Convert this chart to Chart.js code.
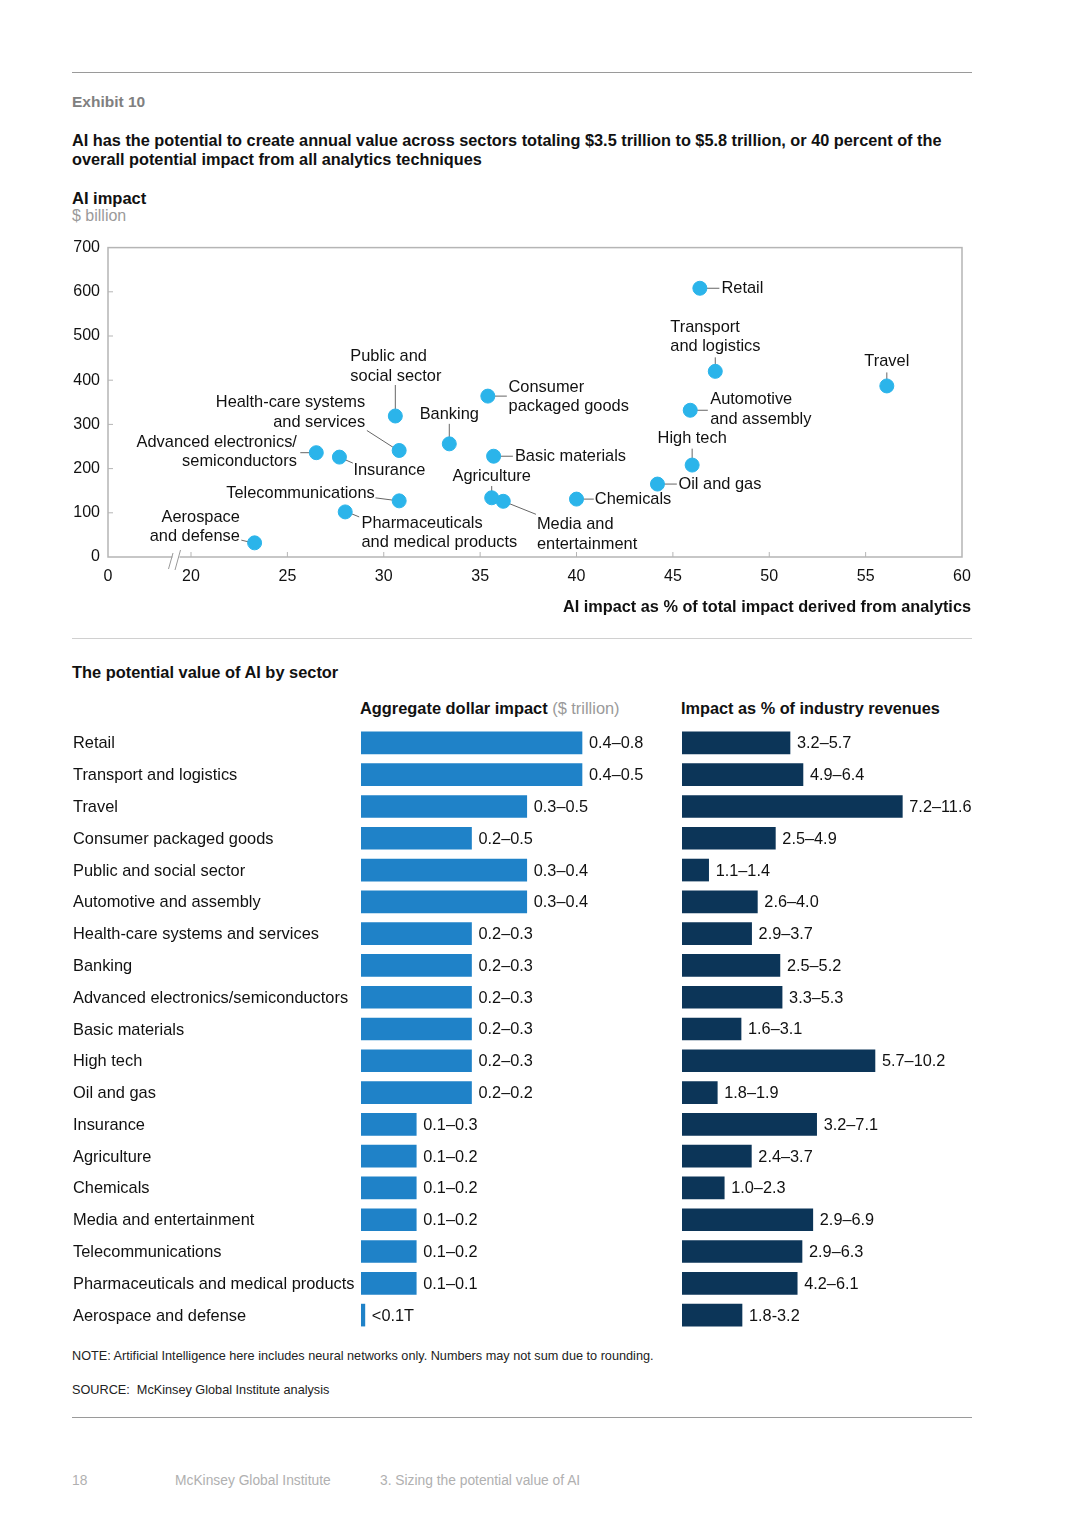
<!DOCTYPE html>
<html>
<head>
<meta charset="utf-8">
<script src="https://cdn.jsdelivr.net/npm/chart.js@4"></script>
<style>
  html, body { margin:0; padding:0; background:#fff; }
  body { width:1080px; height:1528px; position:relative; overflow:hidden; font-family:"Liberation Sans", Arial, sans-serif; color:#111; }
  .abs { position:absolute; white-space:nowrap; }
  .narrow { font-family:"Liberation Sans Narrow", "Arial Narrow", "Liberation Sans", sans-serif; }
  .rule { position:absolute; left:72px; width:900px; height:0; }
  canvas { position:absolute; }
</style>
</head>
<body>
<script>
// ---------- Scatter data ----------
const scatterSectors = ["Retail","Transport and logistics","Travel","Consumer packaged goods","Public and social sector","Automotive and assembly","Health-care systems and services","Banking","Advanced electronics/semiconductors","Basic materials","High tech","Oil and gas","Insurance","Agriculture","Chemicals","Media and entertainment","Telecommunications","Pharmaceuticals and medical products","Aerospace and defense"];
const aiSharePct = [46.4, 47.2, 56.1, 35.4, 30.6, 45.9, 30.8, 33.4, 26.5, 35.7, 46.0, 44.2, 27.7, 35.6, 40.0, 36.2, 30.8, 28.0, 23.3];
const aiValueBn  = [608, 420, 387, 364, 319, 332, 241, 256, 236, 228, 208, 165, 226, 134, 131, 126, 127, 102, 32];
const yTicks = [0,100,200,300,400,500,600,700];
const xTicks = [0,20,25,30,35,40,45,50,55,60];

// ---------- Bar data ----------
const barSectors = ["Retail","Transport and logistics","Travel","Consumer packaged goods","Public and social sector","Automotive and assembly","Health-care systems and services","Banking","Advanced electronics/semiconductors","Basic materials","High tech","Oil and gas","Insurance","Agriculture","Chemicals","Media and entertainment","Telecommunications","Pharmaceuticals and medical products","Aerospace and defense"];
const dollarImpact = [0.4,0.4,0.3,0.2,0.3,0.3,0.2,0.2,0.2,0.2,0.2,0.2,0.1,0.1,0.1,0.1,0.1,0.1,0.007];
const dollarLabels = ["0.4–0.8","0.4–0.5","0.3–0.5","0.2–0.5","0.3–0.4","0.3–0.4","0.2–0.3","0.2–0.3","0.2–0.3","0.2–0.3","0.2–0.3","0.2–0.2","0.1–0.3","0.1–0.2","0.1–0.2","0.1–0.2","0.1–0.2","0.1–0.1","<0.1T"];
const revenueImpact = [4.5,5.04,9.18,3.89,1.11,3.14,2.9,4.08,4.17,2.46,8.04,1.47,5.61,2.89,1.76,5.45,5.0,4.8,2.5];
const revenueLabels = ["3.2–5.7","4.9–6.4","7.2–11.6","2.5–4.9","1.1–1.4","2.6–4.0","2.9–3.7","2.5–5.2","3.3–5.3","1.6–3.1","5.7–10.2","1.8–1.9","3.2–7.1","2.4–3.7","1.0–2.3","2.9–6.9","2.9–6.3","4.2–6.1","1.8-3.2"];
</script>

<!-- Header -->
<div class="rule" style="top:72px;border-top:1px solid #9a9a9a;"></div>
<div class="abs narrow" style="left:72px;top:92px;font-size:15.5px;line-height:20px;font-weight:bold;color:#808080;">Exhibit 10</div>
<div class="abs narrow" style="left:72px;top:131px;font-size:16.3px;line-height:19px;font-weight:bold;color:#111;">AI has the potential to create annual value across sectors totaling $3.5 trillion to $5.8 trillion, or 40 percent of the<br>overall potential impact from all analytics techniques</div>
<div class="abs narrow" style="left:72px;top:188px;font-size:16.5px;line-height:20px;font-weight:bold;color:#111;">AI impact</div>
<div class="abs narrow" style="left:72px;top:206px;font-size:16px;line-height:20px;color:#9a9a9a;">$ billion</div>

<canvas id="scatter" style="left:50px;top:230px;width:960px;height:410px;" width="960" height="410"></canvas>
<div class="abs" style="right:109px;top:596px;font-size:16.3px;line-height:20px;font-weight:bold;color:#111;">AI impact as % of total impact derived from analytics</div>

<div class="rule" style="top:638px;border-top:1px solid #d0d0d0;"></div>
<div class="abs" style="left:72px;top:662px;font-size:16.4px;line-height:20px;font-weight:bold;">The potential value of AI by sector</div>
<div class="abs" style="left:360px;top:698px;font-size:16.4px;line-height:20px;"><b>Aggregate dollar impact</b> <span style="color:#9a9a9a;">($ trillion)</span></div>
<div class="abs" style="left:681px;top:698px;font-size:16.3px;line-height:20px;font-weight:bold;">Impact as % of industry revenues</div>

<canvas id="dollarBars" style="left:72px;top:727px;width:600px;height:604px;" width="600" height="604"></canvas>
<canvas id="revBars" style="left:682px;top:727px;width:320px;height:604px;" width="320" height="604"></canvas>

<div class="abs" style="left:72px;top:1348px;font-size:12.7px;line-height:16px;color:#222;">NOTE: Artificial Intelligence here includes neural networks only. Numbers may not sum due to rounding.</div>
<div class="abs" style="left:72px;top:1382px;font-size:12.7px;line-height:16px;color:#222;">SOURCE:&nbsp; McKinsey Global Institute analysis</div>
<div class="rule" style="top:1417px;border-top:1px solid #9a9a9a;"></div>
<div class="abs" style="left:72px;top:1473px;font-size:13.8px;line-height:16px;color:#b0b0b0;">18</div>
<div class="abs" style="left:175px;top:1473px;font-size:13.8px;line-height:16px;color:#b0b0b0;">McKinsey Global Institute</div>
<div class="abs" style="left:380px;top:1473px;font-size:13.8px;line-height:16px;color:#b0b0b0;">3. Sizing the potential value of AI</div>

<script>
Chart.defaults.font.family = '"Liberation Sans", Arial, sans-serif';
Chart.defaults.color = '#111';
Chart.defaults.animation = false;

// x-axis break: the 0..20 span is compressed; axis minimum sits left of 20
const PX_PER_UNIT = 771 / 40;
const X_MIN = 20 - 83 / PX_PER_UNIT; // position labelled "0"

// label layout (pixel offsets relative to each point)
const labelLayout = {
  "Retail": {dx:21.6, dy:0, align:'left', lines:["Retail"], leader:[6,0,19.5,0]},
  "Transport and logistics": {dx:-45, dy:-44.3, align:'left', lines:["Transport","and logistics"], leader:[0,-14,0,-6]},
  "Travel": {dx:0, dy:-24, align:'center', lines:["Travel"], leader:[0,-13.5,0,-6]},
  "Consumer packaged goods": {dx:20.7, dy:-8.6, align:'left', lines:["Consumer","packaged goods"], leader:[6,0,19,0]},
  "Public and social sector": {dx:-45, dy:-59.3, align:'left', lines:["Public and","social sector"], leader:[0,-31,0,-7]},
  "Automotive and assembly": {dx:20, dy:-10.3, align:'left', lines:["Automotive","and assembly"], leader:[6,0,17.6,0]},
  "Health-care systems and services": {dx:-34, dy:-47.7, align:'right', lines:["Health-care systems","and services"], leader:[-32.3,-20,-5,-2.5]},
  "Banking": {dx:0, dy:-29.6, align:'center', lines:["Banking"], leader:[0,-20,0,-6]},
  "Advanced electronics/semiconductors": {dx:-19.4, dy:-10.7, align:'right', lines:["Advanced electronics/","semiconductors"], leader:[-16,0,-6,0]},
  "Basic materials": {dx:21.3, dy:0, align:'left', lines:["Basic materials"], leader:[6,0,19.3,0]},
  "High tech": {dx:-34.6, dy:-26.7, align:'left', lines:["High tech"], leader:[0,-16.4,0,-6.4]},
  "Oil and gas": {dx:21, dy:0.3, align:'left', lines:["Oil and gas"], leader:[6,0,19.4,0]},
  "Insurance": {dx:14, dy:13.3, align:'left', lines:["Insurance"], leader:[5.7,2.6,13.4,6]},
  "Agriculture": {dx:0, dy:-21, align:'center', lines:["Agriculture"], leader:[0,-11.7,0,-5]},
  "Chemicals": {dx:18.3, dy:0.3, align:'left', lines:["Chemicals"], leader:[6.6,0,17.3,0]},
  "Media and entertainment": {dx:33.7, dy:23.3, align:'left', lines:["Media and","entertainment"], leader:[6,2.3,32.7,13]},
  "Telecommunications": {dx:-24.4, dy:-7.4, align:'right', lines:["Telecommunications"], leader:[-23.7,-3,-6,-0.7]},
  "Pharmaceuticals and medical products": {dx:16.3, dy:11.6, align:'left', lines:["Pharmaceuticals","and medical products"], leader:[5.7,1.6,14,5]},
  "Aerospace and defense": {dx:-14.7, dy:-25.4, align:'right', lines:["Aerospace","and defense"], leader:[-13.3,-2.7,-6,-1]}
};

const scatterDecor = {
  id:'scatterDecor',
  beforeDatasetsDraw(chart){
    const {ctx, chartArea:a, scales:{x,y}} = chart;
    ctx.save();
    ctx.strokeStyle = '#b5b5b5';
    ctx.lineWidth = 1.5;
    ctx.strokeRect(a.left, a.top, a.right-a.left, a.bottom-a.top);
    ctx.lineWidth = 1;
    ctx.beginPath();
    yTicks.forEach(v=>{ if(v>0 && v<700){ const py=y.getPixelForValue(v); ctx.moveTo(a.left,py); ctx.lineTo(a.left+5,py);} });
    xTicks.forEach(v=>{ if(v>=20 && v<60){ const px=x.getPixelForValue(v); ctx.moveTo(px,a.bottom); ctx.lineTo(px,a.bottom-5);} });
    ctx.stroke();
    // axis break
    const bx = x.getPixelForValue(19.3);
    ctx.fillStyle='#fff';
    ctx.fillRect(bx-5, a.bottom-2, 7, 4);
    ctx.strokeStyle='#999';
    ctx.beginPath();
    ctx.moveTo(bx-9, a.bottom+12); ctx.lineTo(bx-4.5, a.bottom-4);
    ctx.moveTo(bx-2.5, a.bottom+13); ctx.lineTo(bx+3, a.bottom-7);
    ctx.stroke();
    // leaders + labels
    const meta = chart.getDatasetMeta(0);
    ctx.font = '16.4px "Liberation Sans", Arial, sans-serif';
    ctx.textBaseline = 'middle';
    meta.data.forEach((pt,i)=>{
      const L = labelLayout[scatterSectors[i]];
      if(!L) return;
      ctx.strokeStyle = '#666';
      ctx.lineWidth = 1;
      ctx.beginPath();
      ctx.moveTo(pt.x+L.leader[0], pt.y+L.leader[1]);
      ctx.lineTo(pt.x+L.leader[2], pt.y+L.leader[3]);
      ctx.stroke();
      ctx.fillStyle = '#111';
      ctx.textAlign = L.align;
      L.lines.forEach((t,k)=>{ ctx.fillText(t, pt.x+L.dx, pt.y+L.dy+k*19.4); });
    });
    ctx.restore();
  }
};

new Chart(document.getElementById('scatter'), {
  type:'scatter',
  data:{ datasets:[{ data: aiSharePct.map((v,i)=>({x:v, y:aiValueBn[i]})), backgroundColor:'#2bb4ea', borderColor:'#2bb4ea', pointRadius:7, pointHoverRadius:7 }] },
  options:{
    responsive:false,
    devicePixelRatio:1,
    layout:{ padding:{ top:16, right:48, left:0, bottom:0 } },
    plugins:{ legend:{display:false}, tooltip:{enabled:false} },
    scales:{
      x:{
        type:'linear', min:X_MIN, max:60,
        grid:{display:false, drawTicks:false}, border:{display:false},
        afterBuildTicks(s){ s.ticks = xTicks.map(v=>({value: v===0 ? X_MIN : v})); },
        afterFit(s){ s.height = 83; },
        ticks:{ padding:10, font:{size:16}, color:'#111', autoSkip:false, maxRotation:0,
          callback(v){ return Math.abs(v-X_MIN)<1e-6 ? '0' : String(v); } }
      },
      y:{
        type:'linear', min:0, max:700,
        grid:{display:false, drawTicks:false}, border:{display:false},
        afterBuildTicks(s){ s.ticks = yTicks.map(v=>({value:v})); },
        afterFit(s){ s.width = 58; },
        ticks:{ padding:8, font:{size:16}, color:'#111' }
      }
    }
  },
  plugins:[scatterDecor]
});

function valueLabelPlugin(labels, categoryNames){
  return {
    id:'valLabels',
    afterDatasetsDraw(chart){
      const {ctx} = chart;
      const meta = chart.getDatasetMeta(0);
      ctx.save();
      ctx.font = '16.3px "Liberation Sans", Arial, sans-serif';
      ctx.fillStyle = '#111';
      ctx.textAlign = 'left';
      ctx.textBaseline = 'middle';
      meta.data.forEach((bar,i)=>{ ctx.fillText(labels[i], bar.x + 7, bar.y + 1); });
      if (categoryNames) {
        ctx.font = '16.4px "Liberation Sans", Arial, sans-serif';
        meta.data.forEach((bar,i)=>{ ctx.fillText(categoryNames[i], 1, bar.y + 1); });
      }
      ctx.restore();
    }
  };
}

new Chart(document.getElementById('dollarBars'), {
  type:'bar',
  data:{ labels:barSectors, datasets:[{ data:dollarImpact, backgroundColor:'#1f82c8', barThickness:22, borderWidth:0 }] },
  options:{
    indexAxis:'y', responsive:false, devicePixelRatio:1,
    layout:{ padding:{left:289, right:0, top:0, bottom:0} },
    plugins:{ legend:{display:false}, tooltip:{enabled:false} },
    scales:{
      x:{ display:false, min:0, max:311/552.5 },
      y:{ display:false }
    }
  },
  plugins:[valueLabelPlugin(dollarLabels, barSectors)]
});

new Chart(document.getElementById('revBars'), {
  type:'bar',
  data:{ labels:barSectors, datasets:[{ data:revenueImpact, backgroundColor:'#0c3558', barThickness:22, borderWidth:0 }] },
  options:{
    indexAxis:'y', responsive:false, devicePixelRatio:1,
    layout:{ padding:{left:0, right:30, top:0, bottom:0} },
    plugins:{ legend:{display:false}, tooltip:{enabled:false} },
    scales:{
      x:{ display:false, min:0, max:290/24 },
      y:{ display:false }
    }
  },
  plugins:[valueLabelPlugin(revenueLabels)]
});
</script>
</body>
</html>
